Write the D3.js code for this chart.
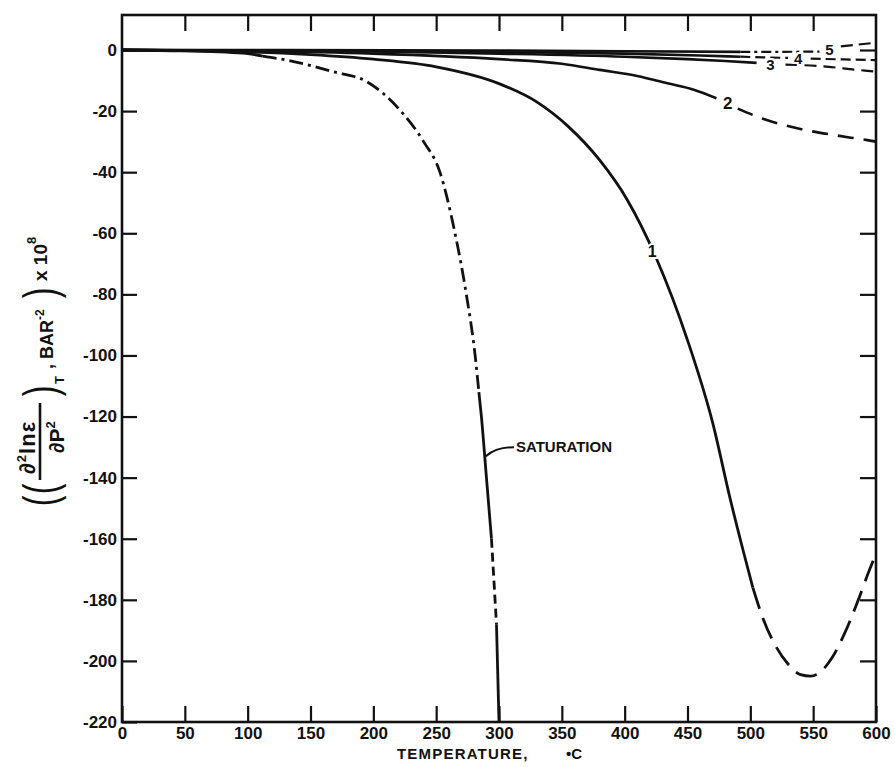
<!DOCTYPE html>
<html>
<head>
<meta charset="utf-8">
<script src="https://cdn.jsdelivr.net/npm/d3@7"></script>
<style>
  html, body { margin: 0; padding: 0; background: #fff; }
  svg text { font-family: "Liberation Sans", Arial, sans-serif; fill: #111; }
</style>
</head>
<body>
<svg id="chart" width="895" height="767"></svg>
<script>
// ---------------- DATA ----------------
const xTicks = [0, 50, 100, 150, 200, 250, 300, 350, 400, 450, 500, 550, 600];
const yTicks = [0, -20, -40, -60, -80, -100, -120, -140, -160, -180, -200, -220];

// Saturation curve
const satT = [0, 50, 100, 131, 168, 195, 221, 240, 253, 265, 274, 281, 286, 290, 294, 298, 300];
const satV = [0, -0.3, -1.2, -3.3, -7.1, -10.4, -19.6, -30, -40, -60, -80, -100, -120, -140, -160, -188, -220];

// Curve 1 (solid then dashed)
const c1T = [0, 100, 150, 200, 250, 300, 330, 355, 380, 402, 425, 450, 470, 484, 495, 502];
const c1V = [0, -0.6, -1.5, -3, -5.5, -11, -17, -25, -36, -49, -68, -95, -122, -147, -165, -176];
const c1dT = [502, 510, 520, 530, 540, 548, 556, 565, 575, 585, 595, 600];
const c1dV = [-176, -186, -195, -201, -204.5, -205, -203.5, -199, -191, -181, -170, -165];

// Curve 2
const c2T = [0, 100, 200, 300, 350, 380, 410, 434, 455, 473];
const c2V = [0, -0.3, -1.2, -3, -4.5, -6.5, -8.5, -10.9, -13, -15.8];
const c2dT = [490, 510, 526, 545, 566, 580, 593, 600];
const c2dV = [-19.2, -22.5, -24.5, -26.3, -27.8, -28.7, -29.5, -30];

// Curve 3
const c3T = [0, 200, 300, 400, 450, 480, 505];
const c3V = [0, -0.5, -1.2, -2.2, -3, -3.6, -4.2];
const c3dT = [528, 553, 585, 600];
const c3dV = [-4.8, -5.2, -6.5, -7.1];

// Curve 4
const c4T = [0, 300, 400, 460, 492];
const c4V = [0, -0.6, -1.2, -1.8, -2.2];
const c4dT = [492, 530, 548, 575, 600];
const c4dV = [-2.2, -2.6, -2.8, -3.1, -3.3];

// Curve 5
const c5T = [0, 300, 400, 492];
const c5V = [0, -0.2, -0.4, -0.6];
const c5dT = [492, 520, 555];
const c5dV = [-0.6, -0.6, -0.5];
const c5eT = [572, 600];
const c5eV = [1.2, 2.4];

const curveLabels = [
  {text: "1", T: 422, V: -66, size: 16},
  {text: "2", T: 482, V: -17.4, size: 17},
  {text: "3", T: 516, V: -4.6, size: 15},
  {text: "4", T: 538, V: -2.7, size: 15},
  {text: "5", T: 563, V: 0.2, size: 15}
];

// ---------------- LAYOUT ----------------
const svg = d3.select("#chart");
const x = d3.scaleLinear().domain([0, 600]).range([122, 876]);
const y = d3.scaleLinear().domain([0, -220]).range([50, 722]);
const yTop = y.invert(15);

const zip = (ts, vs) => ts.map((t, i) => [t, vs[i]]);
const line = d3.line().x(d => x(d[0])).y(d => y(d[1])).curve(d3.curveMonotoneX);

function draw(pts, dash, w) {
  svg.append("path")
    .attr("d", line(pts))
    .attr("fill", "none")
    .attr("stroke", "#111")
    .attr("stroke-width", w || 2.6)
    .attr("stroke-linecap", "butt")
    .attr("stroke-dasharray", dash || null);
}

// frame
svg.append("rect")
  .attr("x", x(0)).attr("y", y(yTop))
  .attr("width", x(600) - x(0)).attr("height", y(-220) - y(yTop))
  .attr("fill", "none").attr("stroke", "#111").attr("stroke-width", 2.6);

// axes
const fmt = d => String(d);
const gL = svg.append("g").attr("transform", `translate(${x(0)},0)`)
  .call(d3.axisLeft(y).tickValues(yTicks).tickSizeInner(-15).tickSizeOuter(0).tickPadding(5).tickFormat(fmt));
const gR = svg.append("g").attr("transform", `translate(${x(600)},0)`)
  .call(d3.axisRight(y).tickValues(yTicks.filter(v => v > -220)).tickSizeInner(-16).tickSizeOuter(0).tickFormat(""));
const gB = svg.append("g").attr("transform", `translate(0,${y(-220)})`)
  .call(d3.axisBottom(x).tickValues(xTicks).tickSizeInner(-16).tickSizeOuter(0).tickPadding(5).tickFormat(fmt));
const gT = svg.append("g").attr("transform", `translate(0,${y(yTop)})`)
  .call(d3.axisTop(x).tickValues(xTicks.filter(v => v > 0 && v < 600)).tickSizeInner(-16).tickSizeOuter(0).tickFormat(""));
[gL, gR, gB, gT].forEach(g => {
  g.select(".domain").remove();
  g.selectAll(".tick line").attr("stroke", "#111").attr("stroke-width", 2.2);
  g.selectAll(".tick text").attr("font-size", 17).attr("font-weight", "bold")
    .style("font-family", "'Liberation Sans', Arial, sans-serif").attr("fill", "#111");
});

// x-axis title
svg.append("text").attr("x", 397).attr("y", 759).attr("font-size", 15).attr("font-weight", "bold")
  .attr("letter-spacing", 1.2).text("TEMPERATURE,");
svg.append("text").attr("x", 566).attr("y", 759).attr("font-size", 15)
  .attr("font-weight", "bold").text("•C");

// y-axis title (rotated)
const yl = svg.append("g").attr("transform", "translate(40,505) rotate(-90)");
const paren = (lx, ch) => yl.append("text").attr("x", lx).attr("y", 0)
  .attr("font-size", 46).attr("dominant-baseline", "central").attr("text-anchor", "middle")
  .attr("transform", `translate(${lx},0) scale(0.7,1) translate(${-lx},0)`).text(ch);
paren(4, "(");
paren(16, "(");
yl.append("line").attr("x1", 25).attr("x2", 102).attr("y1", 0).attr("y2", 0)
  .attr("stroke", "#111").attr("stroke-width", 2.6);
yl.append("text").attr("x", 31).attr("y", -5).attr("font-size", 22).attr("font-weight", "bold")
  .attr("letter-spacing", 1)
  .html('∂<tspan font-size="13" dy="-9">2</tspan><tspan dy="9">lnε</tspan>');
yl.append("text").attr("x", 52).attr("y", 24).attr("font-size", 21).attr("font-weight", "bold")
  .html('∂P<tspan font-size="13" dy="-9">2</tspan>');
paren(114, ")");
yl.append("text").attr("x", 121).attr("y", 24).attr("font-size", 13).attr("font-weight", "bold").text("T");
yl.append("text").attr("x", 136).attr("y", 13).attr("font-size", 18).attr("font-weight", "bold")
  .html(', BAR<tspan font-size="12" dy="-9">-2</tspan>');
paren(212, ")");
yl.append("text").attr("x", 224).attr("y", 7).attr("font-size", 19).attr("font-weight", "bold")
  .html('x 10<tspan font-size="13" dy="-11">8</tspan>');

// ---------------- CURVES ----------------
// helper: sub-curve between two temperatures (for line-style changes)
function slice(ts, vs, t0, t1) {
  const pts = zip(ts, vs);
  const interp = t => {
    for (let i = 1; i < pts.length; i++) {
      if (t <= pts[i][0]) {
        const a = pts[i - 1], b = pts[i];
        const f = (t - a[0]) / (b[0] - a[0]);
        return [t, a[1] + f * (b[1] - a[1])];
      }
    }
    return pts[pts.length - 1];
  };
  return [interp(t0), ...pts.filter(p => p[0] > t0 && p[0] < t1), interp(t1)];
}

// curves 5,4,3,2 (near zero)
draw(zip(c5T, c5V));
draw(zip(c5dT, c5dV), "10,4,3,4", 2.2);
draw(zip(c5eT, c5eV), "12,6", 2.2);
draw(zip(c4T, c4V));
draw(slice(c4dT, c4dV, 492, 530), "10,5", 2.2);
draw(slice(c4dT, c4dV, 548, 600), "10,5", 2.2);
draw(zip(c3T, c3V));
draw(zip(c3dT, c3dV), "12,7", 2.2);
draw(zip(c2T, c2V));
draw(zip(c2dT, c2dV), "16,10", 2.6);

// curve 1
draw(zip(c1T, c1V), null, 2.8);
draw(zip(c1dT, c1dV), "22,10", 2.8);

// saturation curve: solid / dash-dot / solid / dashed / solid
draw(slice(satT, satV, 0, 112), null, 2.8);
draw(slice(satT, satV, 112, 284), "14,5,3,5", 2.8);
draw(slice(satT, satV, 284, 294), null, 2.8);
draw(slice(satT, satV, 294, 298), "9,5", 2.8);
draw(slice(satT, satV, 298, 300), null, 2.8);

// curve labels
curveLabels.forEach(l => {
  svg.append("text").attr("x", x(l.T)).attr("y", y(l.V))
    .attr("font-size", l.size).attr("font-weight", "bold")
    .attr("text-anchor", "middle").attr("dominant-baseline", "central")
    .attr("fill", "#111").style("paint-order", "stroke")
    .attr("stroke", "#fff").attr("stroke-width", 4).text(l.text);
});

// SATURATION label with leader
const satLabelT = 288, satLabelV = -131;
svg.append("path")
  .attr("d", `M${x(satLabelT) + 2},${y(satLabelV) + 6} Q${x(satLabelT) + 12},${y(satLabelV) - 3} ${x(satLabelT) + 30},${y(satLabelV) - 3}`)
  .attr("fill", "none").attr("stroke", "#111").attr("stroke-width", 2);
svg.append("text").attr("x", x(satLabelT) + 32).attr("y", y(satLabelV) + 2)
  .attr("font-size", 15).attr("font-weight", "bold").text("SATURATION");
</script>
</body>
</html>
